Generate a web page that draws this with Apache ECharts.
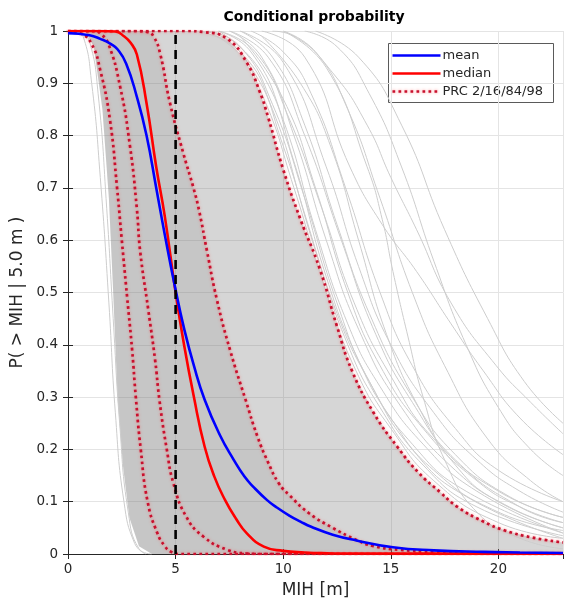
<!DOCTYPE html>
<html><head><meta charset="utf-8">
<script src="https://cdn.jsdelivr.net/npm/echarts@6/dist/echarts.min.js"></script>
<style>html,body{margin:0;padding:0;background:#fff}#c{width:565px;height:605px}</style>
</head><body><div id="c"></div>
<script>
// ---- data ----
const xMax = 23;
const thresholdLine = [[5, 0], [5, 1]];

const meanCurve = [[0,0.996],[1,0.992],[1.5,0.985],[2,0.975],[2.3,0.965],[2.7,0.938],[3.2,0.874],[3.65,0.80],[4.1,0.70],[4.5,0.61],[5,0.505],[5.4,0.43],[5.85,0.36],[6.35,0.295],[7.05,0.228],[7.7,0.18],[8.2,0.148],[8.6,0.129],[9.25,0.103],[9.7,0.089],[10.3,0.073],[10.8,0.062],[11.3,0.052],[12.3,0.037],[13.4,0.026],[15.1,0.013],[17,0.007],[19.3,0.004],[21,0.003],[23,0.002]];

const medianCurve = [[0,1],[1.5,1],[2.2,0.999],[2.6,0.99],[2.9,0.978],[3.2,0.955],[3.65,0.862],[4.1,0.74],[4.5,0.645],[5,0.50],[5.35,0.41],[5.85,0.30],[6.35,0.205],[6.8,0.148],[7.3,0.103],[7.8,0.068],[8.3,0.04],[9.1,0.014],[10,0.006],[11,0.003],[12,0.0015],[13,0.001],[23,0.0005]];

const prc2 = [[0,1],[0.6,0.995],[1.1,0.975],[1.5,0.925],[1.95,0.83],[2.28,0.70],[2.5,0.60],[2.75,0.49],[2.98,0.39],[3.15,0.30],[3.38,0.20],[3.7,0.10],[4.15,0.04],[4.5,0.015],[4.8,0.004],[5.2,0],[23,0]];
const prc16 = [[0,1],[1.2,1],[1.5,0.995],[1.87,0.976],[2.42,0.894],[2.88,0.78],[3.2,0.66],[3.35,0.58],[3.73,0.467],[4.05,0.37],[4.25,0.294],[4.59,0.2],[4.9,0.135],[5.5,0.071],[6.3,0.033],[7.4,0.008],[8.3,0.001],[9,0],[23,0]];
const prc84 = [[0,1],[3,1],[3.7,0.998],[3.97,0.99],[4.28,0.957],[4.74,0.862],[5.36,0.766],[5.83,0.70],[6.1,0.655],[6.45,0.581],[6.92,0.486],[7.53,0.39],[8.25,0.295],[8.8,0.225],[9.3,0.175],[9.8,0.135],[10.3,0.112],[11.2,0.078],[12.3,0.05],[13.4,0.027],[14.2,0.015],[15.4,0.008],[17,0.004],[19,0.002],[23,0.001]];
const prc98 = [[0,1],[5.5,1],[6.3,0.998],[7.4,0.985],[8.3,0.94],[8.9,0.885],[9.3,0.835],[10,0.735],[10.8,0.64],[11.7,0.545],[12.5,0.435],[13.2,0.35],[14.2,0.27],[15.3,0.205],[16.3,0.155],[17.3,0.118],[18.1,0.09],[19.3,0.062],[20.3,0.045],[21.5,0.032],[23,0.022]];

// left edge of the dense bundle of individual curves
const bundleLeftEdge = [[0.8,1],[1.2,0.97],[1.6,0.85],[1.9,0.68],[2.1,0.5],[2.3,0.3],[2.55,0.17],[2.85,0.07],[3.3,0.015],[3.9,0]];

// individual grey curves that stand out from the bundle
const greyCurves = [
  [[0.3,1],[0.7,0.99],[1.1,0.9],[1.5,0.72],[1.9,0.48],[2.2,0.27],[2.6,0.1],[3.1,0.02],[3.6,0]],
  [[0.6,1],[1.0,0.98],[1.4,0.88],[1.8,0.66],[2.1,0.45],[2.4,0.25],[2.8,0.08],[3.3,0.01],[3.9,0]],
  [[9.5,1],[10.5,0.99],[12.3,0.92],[13.9,0.82],[15,0.72],[16.2,0.62],[17.8,0.48],[19.9,0.36],[21.5,0.29],[23,0.23]],
  [[9,1],[11,0.95],[13.1,0.74],[14.6,0.63],[16.2,0.54],[17.8,0.44],[19.3,0.35],[21,0.26],[23,0.19]],
  [[10,1],[12,0.93],[13.9,0.74],[14.6,0.64],[15.1,0.54],[15.8,0.415],[16.5,0.3],[17.5,0.18],[19,0.08],[21,0.03],[23,0.01]],
  [[8.5,1],[10,0.96],[11.3,0.88],[12.9,0.7],[14.5,0.5],[16,0.36],[18,0.24],[20,0.16],[23,0.1]],
  [[8,1],[9.5,0.95],[11,0.82],[12.5,0.63],[14,0.46],[16,0.3],[18,0.19],[20.5,0.11],[23,0.07]],
  [[7.5,1],[9,0.95],[10.5,0.8],[12,0.6],[13.5,0.43],[15.5,0.28],[18,0.16],[20.5,0.09],[23,0.05]],
  [[9,0.99],[10.8,0.9],[12.2,0.78],[13.5,0.6],[14.8,0.42],[16.3,0.28],[18,0.17],[20,0.1],[23,0.05]],
  [[8,0.99],[10,0.87],[11.5,0.7],[13,0.5],[14.5,0.36],[16.5,0.24],[19,0.14],[21,0.09],[23,0.06]],
  [[7,1],[8.5,0.96],[10,0.83],[11.5,0.62],[13,0.44],[14.5,0.32],[16.5,0.21],[19,0.12],[23,0.04]],
  [[11,1],[12.5,0.97],[14,0.88],[15.5,0.74],[17,0.56],[18.5,0.4],[20,0.28],[21.5,0.2],[23,0.15]],
  [[11.5,1],[13.5,0.95],[15.5,0.82],[17.5,0.62],[19.5,0.45],[21.2,0.33],[23,0.25]],
  [[6.5,1],[8.5,0.93],[10,0.78],[11.5,0.58],[13,0.4],[14.5,0.28],[16.5,0.17],[19,0.09],[23,0.035]],
  [[7,1],[9,0.92],[10.5,0.75],[12,0.53],[13.5,0.37],[15,0.26],[17,0.16],[20,0.08],[23,0.045]],
  [[6,1],[8,0.96],[9.5,0.85],[11,0.65],[12.5,0.46],[14,0.33],[16,0.2],[18.5,0.11],[23,0.03]],
  [[6,1],[7.5,0.98],[9,0.88],[10.5,0.7],[12,0.5],[13.5,0.34],[15,0.24],[17,0.14],[20,0.06],[23,0.03]],
  [[6.5,1],[8,0.97],[9.5,0.86],[11,0.68],[12.5,0.48],[14,0.33],[16,0.21],[18.5,0.12],[23,0.04]],
  [[7,1],[8.7,0.96],[10.2,0.84],[11.8,0.66],[13.3,0.48],[15,0.34],[17,0.22],[20,0.12],[23,0.07]],
  [[7.5,1],[9.3,0.95],[11,0.8],[12.7,0.6],[14.3,0.42],[16,0.29],[18,0.18],[21,0.09],[23,0.06]],
  [[10,1],[11.5,0.96],[13,0.85],[14.5,0.68],[16,0.5],[17.5,0.36],[19.5,0.22],[21.5,0.14],[23,0.1]],
  [[8,1],[10,0.94],[12,0.74],[13.5,0.55],[15,0.4],[17,0.27],[19,0.18],[21,0.12],[23,0.08]]
];

const legendLabels = ['mean', 'median', 'PRC 2/16/84/98'];
const titleText = 'Conditional probability';
const xName = 'MIH [m]';
const yName = 'P( > MIH | 5.0 m )';

// ---- chart ----
const FONT = 'DejaVu Sans';
const chart = echarts.init(document.getElementById('c'), null, {renderer: 'canvas'});

function polygonSeries(points, fill, z) {
  return {
    type: 'custom', coordinateSystem: 'cartesian2d', data: [[0, 0]], z: z, silent: true,
    renderItem: function (params, api) {
      return {type: 'polygon', shape: {points: points.map(p => api.coord(p))}, style: {fill: fill}};
    }
  };
}
const outerBand = bundleLeftEdge.concat([[xMax, 0]], prc98.filter(p => p[0] > bundleLeftEdge[0][0]).reverse());
const innerBand = bundleLeftEdge.concat(prc84.filter(p => p[0] > bundleLeftEdge[0][0]).reverse());

function lineSeries(data, color, width, type, z, extra) {
  return Object.assign({
    type: 'line', data: data, showSymbol: false, smooth: 0.5, z: z, silent: true,
    lineStyle: {color: color, width: width, type: type}
  }, extra || {});
}

const series = [];
series.push(polygonSeries(outerBand, 'rgba(128,128,128,0.32)', 1));
series.push(polygonSeries(innerBand, 'rgba(128,128,128,0.18)', 2));
greyCurves.forEach(c => series.push(lineSeries(c, '#cdcdcd', 1, 'solid', 3)));
const prcStyle = {lineStyle: {color: '#c8102e', width: 2.7, type: [2.7, 3.3], shadowBlur: 3, shadowColor: 'rgba(255,60,60,0.6)'}};
[prc2, prc16, prc84, prc98].forEach(c => series.push(lineSeries(c, '#c8102e', 2.7, [2.7, 3.3], 5, prcStyle)));
series.push(lineSeries(medianCurve, '#ff0000', 2.6, 'solid', 6));
series.push(lineSeries(meanCurve, '#0000ff', 2.6, 'solid', 7));
series.push({type: 'line', data: thresholdLine, showSymbol: false, z: 8, silent: true,
  lineStyle: {color: '#000', width: 2.6, type: [9, 6]}});

const axisText = {color: '#262626', fontFamily: FONT, fontSize: 13.5};
chart.setOption({
  animation: false,
  grid: {left: 68, right: 2, top: 31, bottom: 51},
  xAxis: [{
    type: 'value', min: 0, max: xMax, interval: 5,
    axisLine: {lineStyle: {color: '#262626'}}, axisTick: {inside: true, length: 5, lineStyle: {color: '#262626'}},
    axisLabel: Object.assign({margin: 8, showMaxLabel: false}, axisText),
    splitLine: {show: true, lineStyle: {color: '#e4e4e4'}},
    name: xName, nameLocation: 'middle', nameGap: 28,
    nameTextStyle: {color: '#262626', fontFamily: FONT, fontSize: 17}
  }, {
    type: 'value', position: 'top', min: 0, max: xMax, interval: 5,
    axisLine: {show: true, lineStyle: {color: '#262626'}}, axisTick: {inside: true, length: 5, lineStyle: {color: '#262626'}},
    axisLabel: {show: false}, splitLine: {show: false}
  }],
  yAxis: [{
    type: 'value', min: 0, max: 1, interval: 0.1,
    axisLine: {show: true, lineStyle: {color: '#262626'}}, axisTick: {show: true, inside: true, length: 5, lineStyle: {color: '#262626'}},
    axisLabel: Object.assign({margin: 10}, axisText),
    splitLine: {show: true, lineStyle: {color: '#e4e4e4'}},
    name: yName, nameLocation: 'middle', nameGap: 35, nameRotate: 90,
    nameTextStyle: {color: '#262626', fontFamily: FONT, fontSize: 17}
  }, {
    type: 'value', position: 'right', min: 0, max: 1, interval: 0.1,
    axisLine: {show: true, lineStyle: {color: '#262626'}}, axisTick: {show: true, inside: true, length: 5, lineStyle: {color: '#262626'}},
    axisLabel: {show: false}, splitLine: {show: false}
  }],
  series: series,
  graphic: [
    {type: 'text', x: 314, y: 17, z: 100, style: {text: titleText, font: 'bold 14px "DejaVu Sans"', fill: '#000', align: 'center', verticalAlign: 'middle'}},
    {type: 'group', left: 388, top: 43, z: 100, children: [
      {type: 'rect', shape: {x: 0, y: 0, width: 165, height: 59}, style: {fill: '#fff', stroke: '#5a5a5a', lineWidth: 1}},
      {type: 'line', shape: {x1: 4, y1: 12, x2: 52, y2: 12}, style: {stroke: '#0000ff', lineWidth: 2.6}},
      {type: 'line', shape: {x1: 4, y1: 30, x2: 52, y2: 30}, style: {stroke: '#ff0000', lineWidth: 2.6}},
      {type: 'line', shape: {x1: 4, y1: 48, x2: 52, y2: 48}, style: {stroke: '#c8102e', lineWidth: 2.7, lineDash: [2.7, 3.3], shadowBlur: 3, shadowColor: 'rgba(255,60,60,0.6)'}},
      {type: 'text', x: 54, y: 12, style: {text: legendLabels[0], font: '13px "DejaVu Sans"', fill: '#262626', verticalAlign: 'middle'}},
      {type: 'text', x: 54, y: 30, style: {text: legendLabels[1], font: '13px "DejaVu Sans"', fill: '#262626', verticalAlign: 'middle'}},
      {type: 'text', x: 54, y: 48, style: {text: legendLabels[2], font: '13px "DejaVu Sans"', fill: '#262626', verticalAlign: 'middle'}}
    ]}
  ]
});
</script>
</body></html>
